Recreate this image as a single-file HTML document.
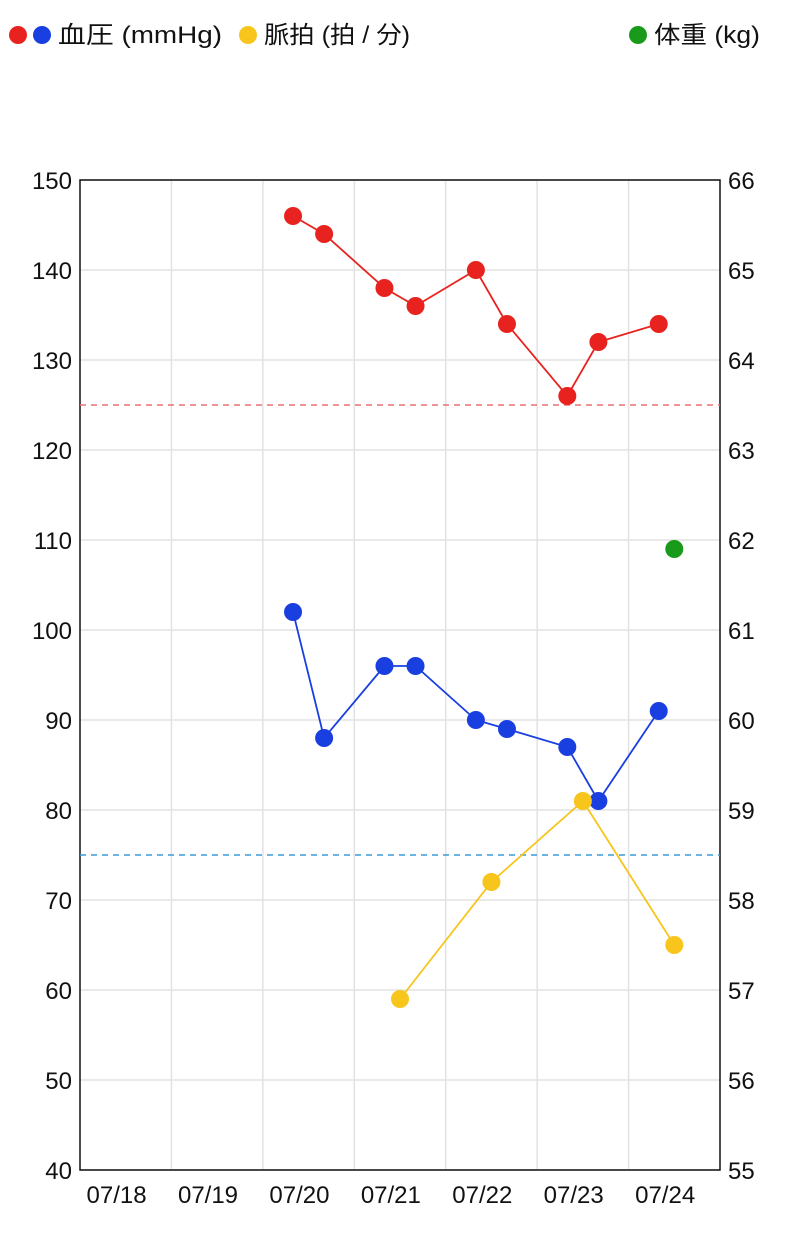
<!DOCTYPE html>
<html><head><meta charset="utf-8"><style>
body{margin:0;background:#fff;width:800px;height:1247px;overflow:hidden;font-family:"Liberation Sans","Noto Sans CJK JP",sans-serif;}
</style></head><body>
<svg id="chart" width="800" height="1247" xmlns="http://www.w3.org/2000/svg" font-family="Liberation Sans, Noto Sans CJK JP, sans-serif"></svg>
<script>
const dayLabels=["07/18","07/19","07/20","07/21","07/22","07/23","07/24"];
const leftTicks=[40,50,60,70,80,90,100,110,120,130,140,150];
const rightTicks=[55,56,57,58,59,60,61,62,63,64,65,66];
const bpTimes=[2.33,2.67,3.33,3.67,4.33,4.67,5.33,5.67,6.33];
const systolic=[146,144,138,136,140,134,126,132,134];
const diastolic=[102,88,96,96,90,89,87,81,91];
const pulseTimes=[3.5,4.5,5.5,6.5];
const pulse=[59,72,81,65];
const weightTimes=[6.5];
const weight=[61.9];
const sysRef=125, diaRef=75;

const L=80,R=720,T=180,B=1170;
const x=d=>L+d*(R-L)/7;
const yL=v=>B-(v-40)*(B-T)/110;
const yR=v=>B-(v-55)*(B-T)/11;
const svg=document.getElementById('chart');
const NS="http://www.w3.org/2000/svg";
function mk(tag,attrs,name){const e=document.createElementNS(NS,tag);for(const k in attrs)e.setAttribute(k,attrs[k]);


svg.appendChild(e);return e;}

// legend
const leg=[[14,'#e8231f'],[38,'#1a3fe0'],[244,'#f7c51c'],[634,'#1a9a1a']];
leg.forEach(l=>{mk('circle',{cx:l[0]+4,cy:35,r:9,fill:l[1]},'legend-marker');});
[[58,'血圧 (mmHg)',164],[264,'脈拍 (拍 / 分)',146],[654,'体重 (kg)',106]].forEach(t=>{const e=mk('text',{x:t[0],y:43,'font-size':24,fill:'#111',textLength:t[2],lengthAdjust:'spacingAndGlyphs'},'legend-label');e.textContent=t[1];});

// grid
leftTicks.forEach(v=>{mk('line',{x1:L,x2:R,y1:yL(v),y2:yL(v),stroke:'#e2e2e2','stroke-width':1.5},'grid-line-h');
const t=mk('text',{x:72,y:yL(v)+9,'font-size':24,'text-anchor':'end',fill:'#111'},'left-tick-label');t.textContent=v;});
rightTicks.forEach(v=>{const t=mk('text',{x:728,y:yR(v)+9,'font-size':24,fill:'#111'},'right-tick-label');t.textContent=v;});
for(let i=1;i<7;i++)mk('line',{x1:x(i),x2:x(i),y1:T,y2:B,stroke:'#e2e2e2','stroke-width':1.5},'grid-line-v');
dayLabels.forEach((d,i)=>{const t=mk('text',{x:x(i+0.4),y:1203,'font-size':24,'text-anchor':'middle',fill:'#111'},'x-tick-label');t.textContent=d;});
mk('rect',{x:L,y:T,width:R-L,height:B-T,fill:'none',stroke:'#111','stroke-width':1.5},'plot-frame');

// ref lines
mk('line',{x1:L,x2:R,y1:yL(sysRef),y2:yL(sysRef),stroke:'#e87070','stroke-width':1.5,'stroke-dasharray':'6,5'},'systolic-reference-line');
mk('line',{x1:L,x2:R,y1:yL(diaRef),y2:yL(diaRef),stroke:'#3a9ad8','stroke-width':1.5,'stroke-dasharray':'6,5'},'diastolic-reference-line');

function series(ts,vs,ys,color,name){
 mk('polyline',{points:ts.map((t,i)=>x(t)+','+ys(vs[i])).join(' '),fill:'none',stroke:color,'stroke-width':1.8},name+'-line');
 ts.forEach((t,i)=>mk('circle',{cx:x(t),cy:ys(vs[i]),r:9,fill:color},name+'-point'));
}
series(bpTimes,systolic,yL,'#e8231f','systolic');
series(bpTimes,diastolic,yL,'#1a3fe0','diastolic');
series(pulseTimes,pulse,yL,'#f7c51c','pulse');
series(weightTimes,weight,yR,'#1a9a1a','weight');
</script>
</body></html>
